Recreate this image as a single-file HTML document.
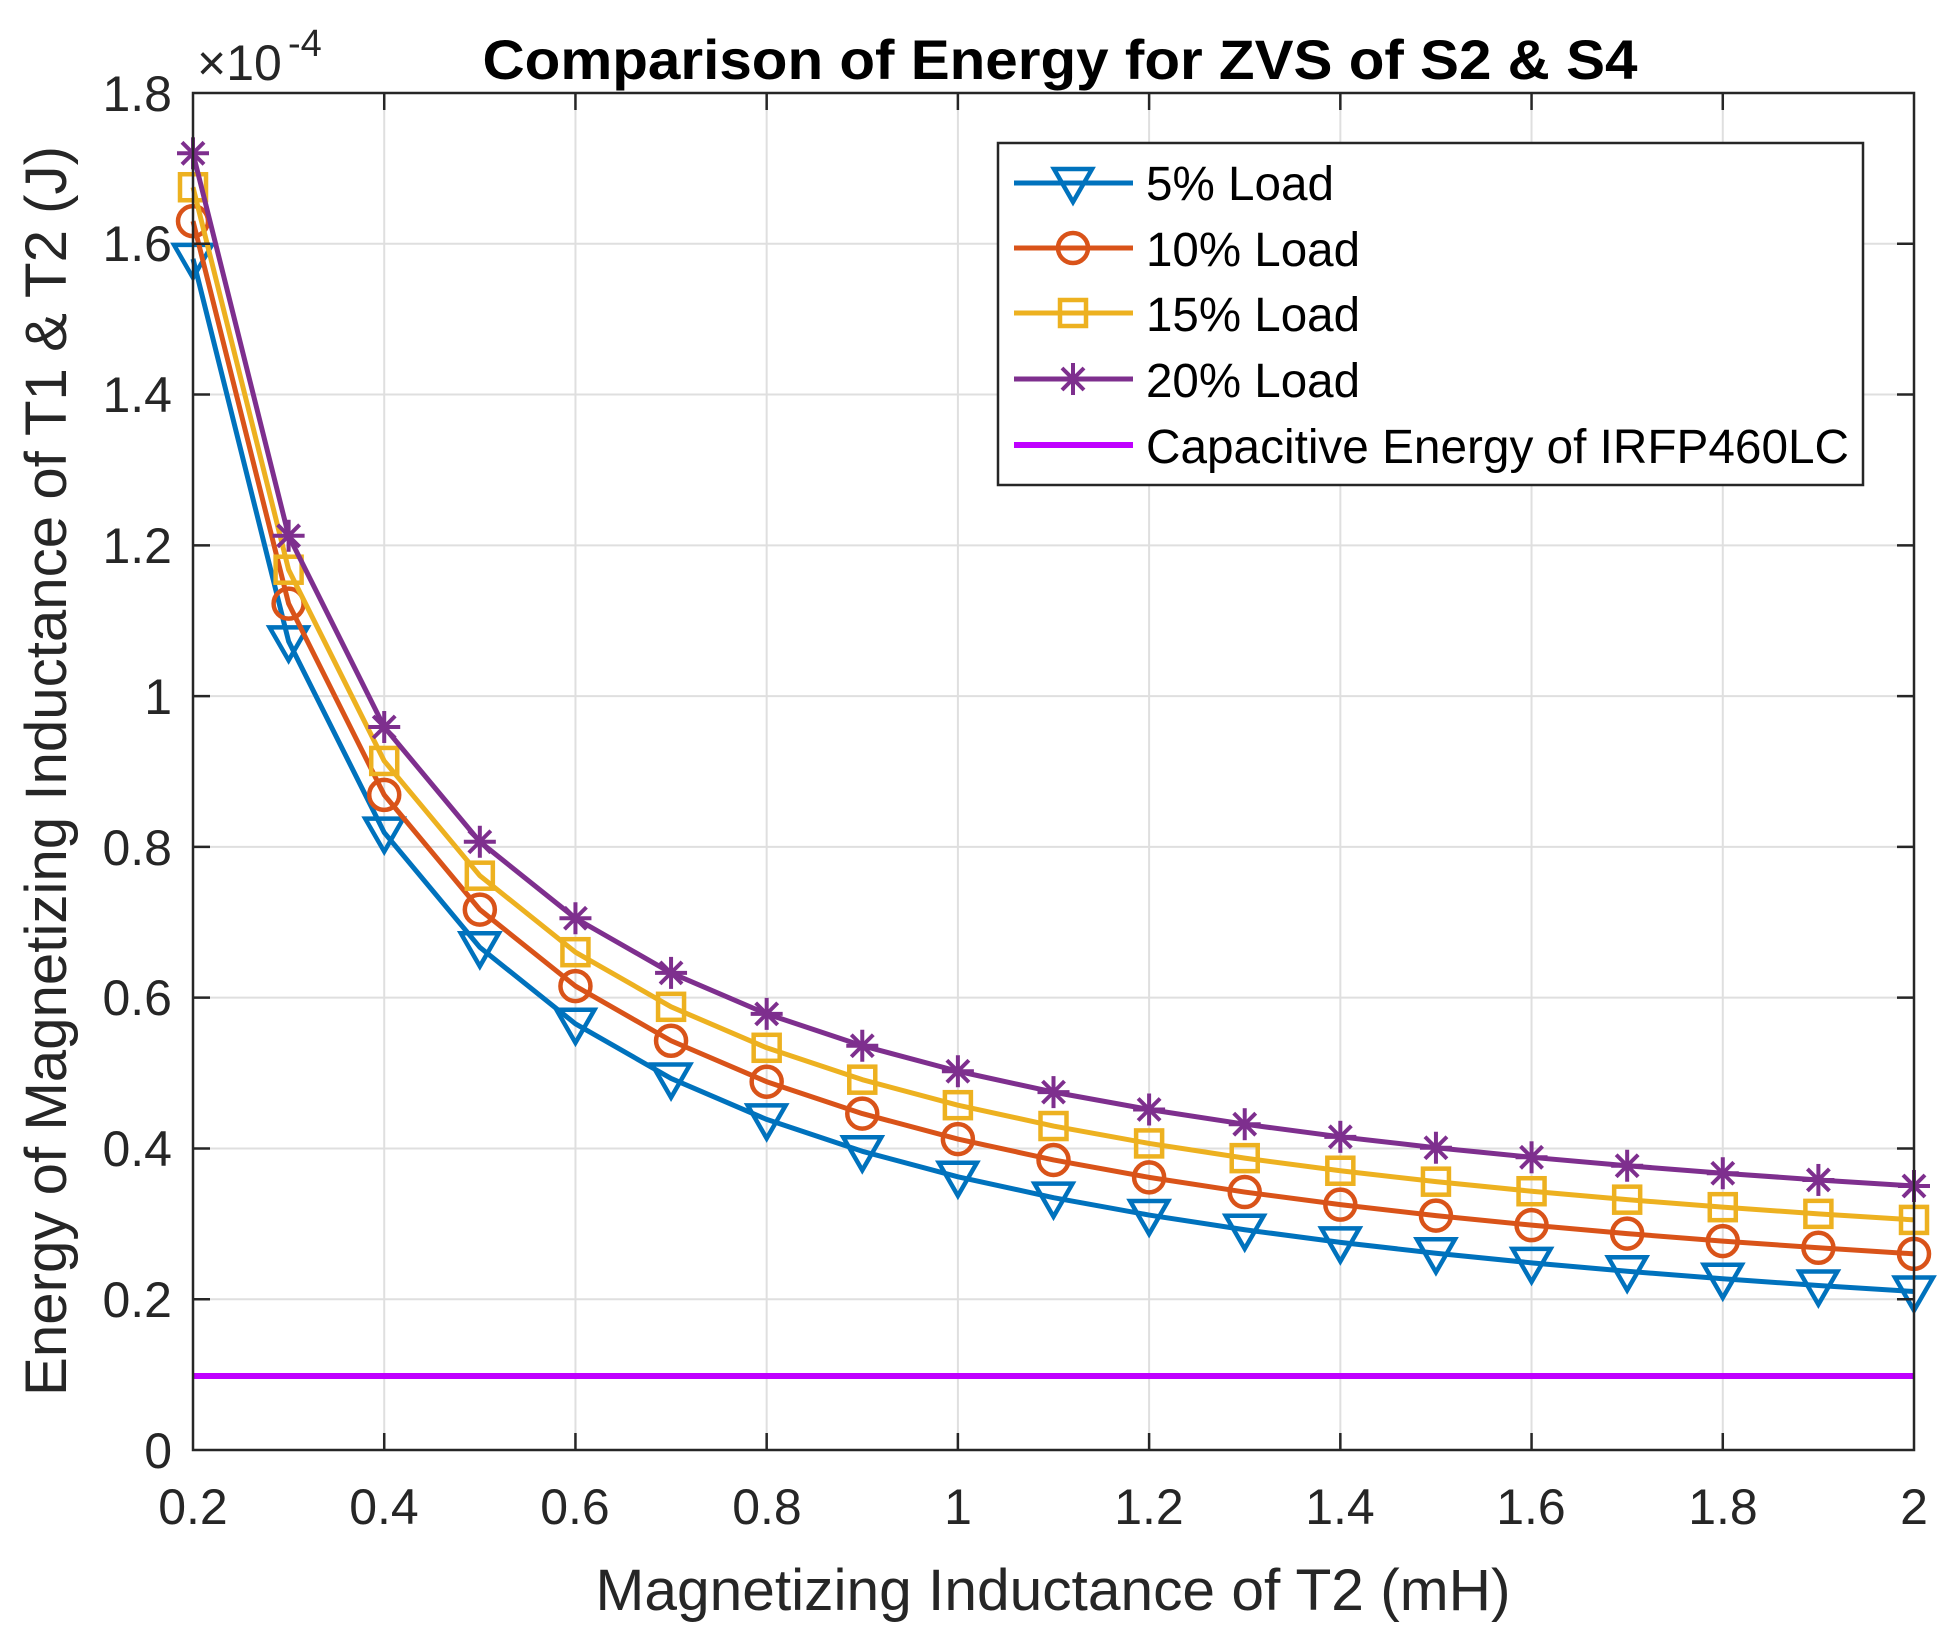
<!DOCTYPE html>
<html><head><meta charset="utf-8"><style>body{margin:0;background:#fff}svg{display:block}text{font-family:"Liberation Sans",Arial,sans-serif;fill:#262626}</style></head>
<body>
<svg id="s" width="1954" height="1638" xmlns="http://www.w3.org/2000/svg">
<rect width="1954" height="1638" fill="#fff"/>
<g id="grid" stroke="#dfdfdf" stroke-width="2"></g>
<g id="data"></g>
<rect x="193" y="93" width="1721" height="1357" fill="none" stroke="#262626" stroke-width="2.5"/>
<g id="ticks" stroke="#262626" stroke-width="2.5"></g>
<g font-size="50" text-anchor="end">
<text x="172" y="1468">0</text><text x="172" y="1317">0.2</text><text x="172" y="1166">0.4</text><text x="172" y="1015">0.6</text><text x="172" y="865">0.8</text><text x="172" y="714">1</text><text x="172" y="563">1.2</text><text x="172" y="412">1.4</text><text x="172" y="261">1.6</text><text x="172" y="111">1.8</text>
</g>
<g font-size="50" text-anchor="middle">
<text x="193" y="1524">0.2</text><text x="384" y="1524">0.4</text><text x="575" y="1524">0.6</text><text x="767" y="1524">0.8</text><text x="958" y="1524">1</text><text x="1149" y="1524">1.2</text><text x="1340" y="1524">1.4</text><text x="1531" y="1524">1.6</text><text x="1723" y="1524">1.8</text><text x="1914" y="1524">2</text>
</g>
<text x="197" y="80" font-size="50">×10</text><text x="288" y="56" font-size="38">-4</text>
<text x="1060" y="79" font-size="56" font-weight="bold" text-anchor="middle" style="fill:#000" textLength="1155" lengthAdjust="spacingAndGlyphs">Comparison of Energy for ZVS of S2 &amp; S4</text>
<text x="1053" y="1610" font-size="58" text-anchor="middle" textLength="915" lengthAdjust="spacingAndGlyphs">Magnetizing Inductance of T2 (mH)</text>
<text transform="translate(66,771) rotate(-90)" font-size="58" text-anchor="middle" textLength="1250" lengthAdjust="spacingAndGlyphs">Energy of Magnetizing Inductance of T1 &amp; T2 (J)</text>
<rect x="998" y="143" width="865" height="342" fill="#fff" stroke="#262626" stroke-width="2.5"/>
<g id="leg"></g>
<g font-size="48">
<text x="1146" y="200" style="fill:#000" textLength="188" lengthAdjust="spacingAndGlyphs">5% Load</text>
<text x="1146" y="266" style="fill:#000" textLength="214" lengthAdjust="spacingAndGlyphs">10% Load</text>
<text x="1146" y="331" style="fill:#000" textLength="214" lengthAdjust="spacingAndGlyphs">15% Load</text>
<text x="1146" y="397" style="fill:#000" textLength="214" lengthAdjust="spacingAndGlyphs">20% Load</text>
<text x="1146" y="463" style="fill:#000" textLength="703" lengthAdjust="spacingAndGlyphs">Capacitive Energy of IRFP460LC</text>
</g>
</svg>
<script>
const NS="http://www.w3.org/2000/svg";
function el(p,t,a){const e=document.createElementNS(NS,t);for(const k in a)e.setAttribute(k,a[k]);p.appendChild(e);return e;}
const X=v=>193+(v-0.2)/1.8*1721, Y=v=>1450-v/1.8*1357;
const g=document.getElementById('grid'),tk=document.getElementById('ticks'),d=document.getElementById('data'),lg=document.getElementById('leg');
for(let i=1;i<9;i++){const x=193+i*1721/9;el(g,'line',{x1:x,x2:x,y1:93,y2:1450});el(tk,'line',{x1:x,x2:x,y1:1450,y2:1433});el(tk,'line',{x1:x,x2:x,y1:93,y2:110});}
for(let i=1;i<9;i++){const y=1450-i*1357/9;el(g,'line',{x1:193,x2:1914,y1:y,y2:y});el(tk,'line',{x1:193,x2:210,y1:y,y2:y});el(tk,'line',{x1:1914,x2:1897,y1:y,y2:y});}
const S=[[0.058,'#0072BD','tri'],[0.108,'#D95319','circ'],[0.153,'#EDB120','sq'],[0.198,'#7E2F8E','star']];
function mk(p,m,x,y,c){
 const a={fill:'none',stroke:c,'stroke-width':4.5};
 if(m=='tri')el(p,'polygon',Object.assign({points:`${x-19},${y-14} ${x+19},${y-14} ${x},${y+19}`},a));
 if(m=='circ')el(p,'circle',Object.assign({cx:x,cy:y,r:15},a));
 if(m=='sq')el(p,'rect',Object.assign({x:x-13,y:y-13,width:26,height:26},a));
 if(m=='star'){const r=16;const s=Object.assign({},a,{'stroke-width':4});
  el(p,'line',Object.assign({x1:x-r,x2:x+r,y1:y,y2:y},s));el(p,'line',Object.assign({x1:x,x2:x,y1:y-r,y2:y+r},s));
  el(p,'line',Object.assign({x1:x-11,x2:x+11,y1:y-11,y2:y+11},s));el(p,'line',Object.assign({x1:x-11,x2:x+11,y1:y+11,y2:y-11},s));}
}
el(d,'line',{x1:193,x2:1914,y1:1376,y2:1376,stroke:'#BF00FF','stroke-width':6});
S.forEach(([a,c,m])=>{let pts=[];for(let i=0;i<=18;i++){const L=0.2+i*0.1;pts.push([X(L),Y(a+0.3044/L)]);}
 el(d,'polyline',{points:pts.map(p=>p.join(',')).join(' '),fill:'none',stroke:c,'stroke-width':5,'stroke-linejoin':'round'});
 pts.forEach(p=>mk(d,m,p[0],p[1],c));});
const rows=[183,248,313,379];
S.forEach(([a,c,m],i)=>{el(lg,'line',{x1:1014,x2:1133,y1:rows[i],y2:rows[i],stroke:c,'stroke-width':5});mk(lg,m,1073,rows[i],c);});
el(lg,'line',{x1:1014,x2:1133,y1:445,y2:445,stroke:'#BF00FF','stroke-width':6});
</script>
</body></html>
